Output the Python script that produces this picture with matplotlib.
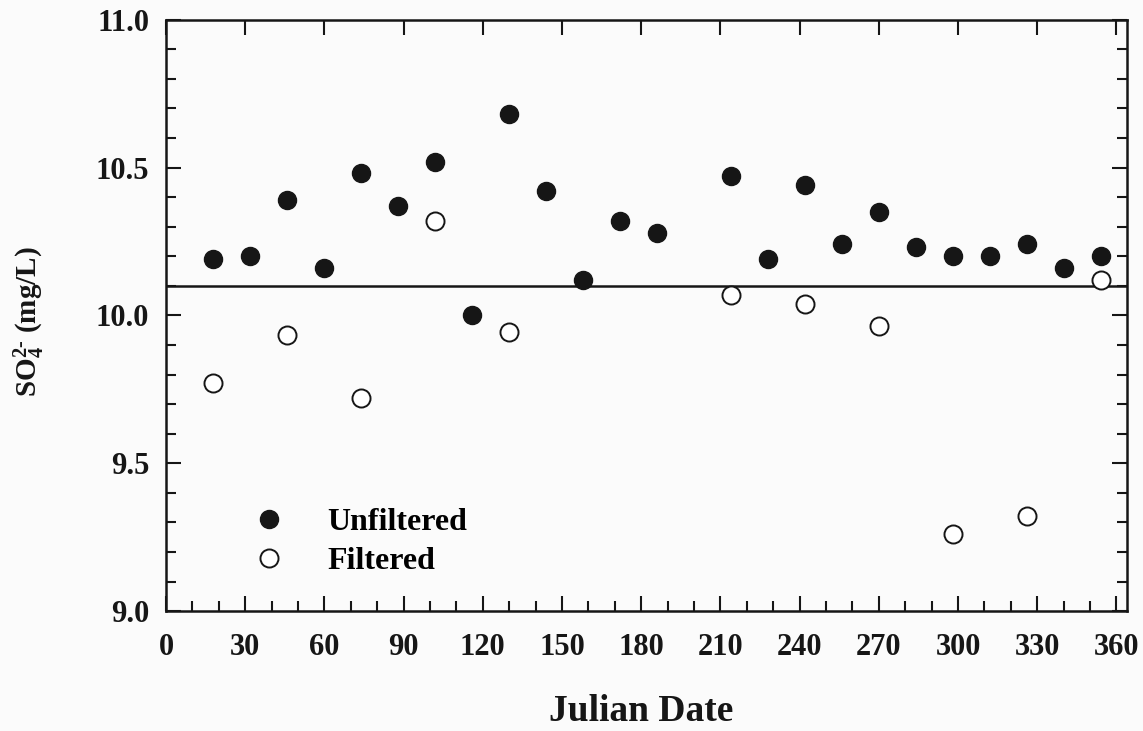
import matplotlib
matplotlib.use("Agg")
import matplotlib.pyplot as plt
from matplotlib.ticker import MultipleLocator
from matplotlib.lines import Line2D

plt.rcParams['font.family'] = ['Liberation Serif', 'DejaVu Serif']
plt.rcParams['font.weight'] = 'bold'
plt.rcParams['mathtext.fontset'] = 'custom'
plt.rcParams['mathtext.rm'] = 'Liberation Serif:bold'
plt.rcParams['mathtext.it'] = 'Liberation Serif:bold'
plt.rcParams['mathtext.bf'] = 'Liberation Serif:bold'

# sulfate concentrations by Julian date
unfilt_day = [18, 32, 46, 60, 74, 88, 102, 116, 130, 144, 158, 172, 186,
              214, 228, 242, 256, 270, 284, 298, 312, 326, 340, 354]
unfilt_so4 = [10.19, 10.20, 10.39, 10.16, 10.48, 10.37, 10.52, 10.00, 10.68,
              10.42, 10.12, 10.32, 10.28, 10.47, 10.19, 10.44, 10.24, 10.35,
              10.23, 10.20, 10.20, 10.24, 10.16, 10.20]

filt_day = [18, 46, 74, 102, 130, 214, 242, 270, 298, 326, 354]
filt_so4 = [9.77, 9.935, 9.72, 10.32, 9.945, 10.07, 10.04, 9.965, 9.26, 9.32,
            10.12]

ref_level = 10.10

ink = '#161616'
msize = 13

fig = plt.figure(figsize=(11.43, 7.31), dpi=100)
fig.patch.set_facecolor('#fbfbfb')
ax = fig.add_axes([0.1452, 0.164, 0.8408, 0.809])
ax.set_facecolor('#fbfbfb')

ax.axhline(ref_level, color=ink, lw=1.8, zorder=1)

ax.plot(unfilt_day, unfilt_so4, 'o', ms=msize, color=ink, mec=ink, zorder=3)
ax.plot(filt_day, filt_so4, 'o', ms=msize, mfc='white', mec=ink, mew=1.4,
        zorder=3)

ax.set_xlim(0, 364)
ax.set_ylim(9.0, 11.0)
ax.xaxis.set_major_locator(MultipleLocator(30))
ax.xaxis.set_minor_locator(MultipleLocator(10))
ax.yaxis.set_major_locator(MultipleLocator(0.5))
ax.yaxis.set_minor_locator(MultipleLocator(0.1))
ax.yaxis.set_major_formatter(lambda v, p: f'{v:.1f}')

for s in ax.spines.values():
    s.set_linewidth(1.8)
    s.set_color(ink)

ax.tick_params(which='both', direction='in', colors=ink, width=1.5,
               top=True, right=True, labelsize=22)
ax.tick_params(which='major', length=11)
ax.tick_params(which='minor', length=7, top=False)
ax.tick_params(axis='x', pad=16)
ax.tick_params(axis='y', pad=12)
for lab in ax.get_xticklabels() + ax.get_yticklabels():
    lab.set_fontweight('bold')

ax.set_xlabel('Julian Date', fontsize=27, fontweight='bold', color=ink)
ax.xaxis.set_label_coords(0.494, -0.140)
ax.set_ylabel(r'SO$_4^{2\text{-}}$ (mg/L)', fontsize=21, fontweight='bold',
              color=ink)
ax.yaxis.set_label_coords(-0.124, 0.49)

handles = [
    Line2D([], [], ls='none', marker='o', ms=msize, color=ink),
    Line2D([], [], ls='none', marker='o', ms=msize, mfc='white', mec=ink,
           mew=1.4),
]
ax.legend(handles, ['Unfiltered', 'Filtered'], frameon=False,
          loc='center left', bbox_to_anchor=(0.0645, 0.117),
          prop={'size': 23, 'weight': 'bold'}, handlelength=1.0,
          handletextpad=1.3, labelspacing=0.3, borderpad=0.3)

fig.savefig('out.png', dpi=100, facecolor=fig.get_facecolor())
